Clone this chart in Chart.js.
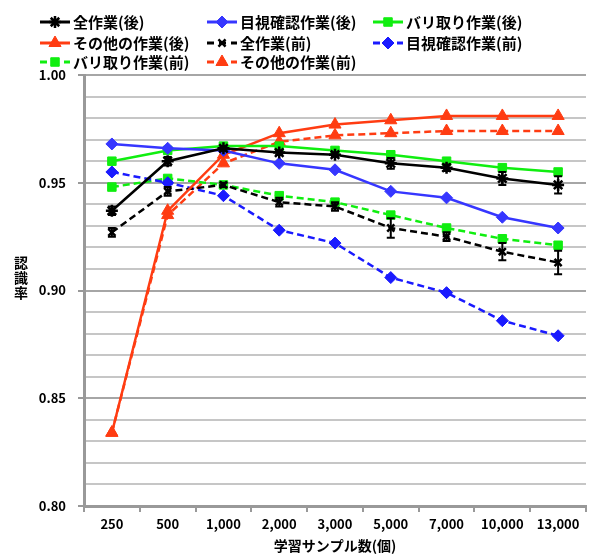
<!DOCTYPE html>
<html>
<head>
<meta charset="utf-8">
<script src="https://cdn.jsdelivr.net/npm/chart.js@4"></script>
<style>
  html, body { margin: 0; padding: 0; background: #fff; }
  #wrap { width: 597px; height: 554px; }
</style>
</head>
<body>
<div id="wrap"><canvas id="chart" width="597" height="554"></canvas></div>
<script>
const sampleSizes = ["250", "500", "1,000", "2,000", "3,000", "5,000", "7,000", "10,000", "13,000"];

const allAfter    = [0.937, 0.960, 0.966, 0.964, 0.963, 0.959, 0.957, 0.952, 0.949];
const visualAfter = [0.968, 0.966, 0.965, 0.959, 0.956, 0.946, 0.943, 0.934, 0.929];
const burrAfter   = [0.960, 0.965, 0.967, 0.967, 0.965, 0.963, 0.960, 0.957, 0.955];
const otherAfter  = [0.834, 0.937, 0.963, 0.973, 0.977, 0.979, 0.981, 0.981, 0.981];
const allBefore    = [0.927, 0.946, 0.949, 0.941, 0.939, 0.929, 0.925, 0.918, 0.913];
const visualBefore = [0.955, 0.950, 0.944, 0.928, 0.922, 0.906, 0.899, 0.886, 0.879];
const burrBefore   = [0.948, 0.952, 0.949, 0.944, 0.941, 0.935, 0.929, 0.924, 0.921];
const otherBefore  = [0.834, 0.935, 0.959, 0.969, 0.972, 0.973, 0.974, 0.974, 0.974];

// error bar half-widths for the two "all work" series
const allAfterErr  = [0.002, 0.002, 0.001, 0.001, 0.001, 0.0025, 0.0015, 0.003, 0.004];
const allBeforeErr = [0.002, 0.002, 0.001, 0.002, 0.002, 0.0045, 0.002, 0.004, 0.0055];

const yTicksMajor = [0.80, 0.85, 0.90, 0.95, 1.00];
const yTitleChars = ["認", "識", "率"];

const BLACK = "#000000", BLUE = "#3636ff", BLUE_D = "#1a1aff", GREEN = "#10ee10", RED = "#ff3c12";
const JP = "'Noto Sans CJK JP', 'Noto Sans', sans-serif";

function series(label, data, color, style, dashed, radius) {
	return {
		label: label,
		data: data,
		borderColor: color,
		backgroundColor: color,
		pointBackgroundColor: color,
		pointBorderColor: color,
		pointStyle: style,
		pointRadius: radius || 5,
		pointBorderWidth: style === "star" || style === "crossRot" ? 2.5 : 1,
		borderWidth: 2.5,
		borderDash: dashed ? [7, 4] : [],
		tension: 0
	};
}

const datasets = [
	series("全作業(後)", allAfter, BLACK, "star", false, 6),
	series("目視確認作業(後)", visualAfter, BLUE, "rectRot", false, 6),
	series("バリ取り作業(後)", burrAfter, GREEN, "rect", false, 6),
	series("その他の作業(後)", otherAfter, RED, "triangle", false, 7),
	series("全作業(前)", allBefore, BLACK, "crossRot", true, 5),
	series("目視確認作業(前)", visualBefore, BLUE_D, "rectRot", true, 6),
	series("バリ取り作業(前)", burrBefore, GREEN, "rect", true, 6),
	series("その他の作業(前)", otherBefore, RED, "triangle", true, 7)
];
datasets[0].errors = allAfterErr;
datasets[4].errors = allBeforeErr;

const errorBars = {
	id: "errorBars",
	afterDatasetsDraw(chart) {
		const ctx = chart.ctx;
		const y = chart.scales.y;
		chart.data.datasets.forEach((ds, i) => {
			if (!ds.errors) return;
			const meta = chart.getDatasetMeta(i);
			ctx.save();
			ctx.strokeStyle = BLACK;
			ctx.lineWidth = 2;
			meta.data.forEach((pt, j) => {
				const v = ds.data[j], e = ds.errors[j];
				const y1 = y.getPixelForValue(v - e), y2 = y.getPixelForValue(v + e);
				ctx.beginPath();
				ctx.moveTo(pt.x, y1); ctx.lineTo(pt.x, y2);
				ctx.moveTo(pt.x - 4, y1); ctx.lineTo(pt.x + 4, y1);
				ctx.moveTo(pt.x - 4, y2); ctx.lineTo(pt.x + 4, y2);
				ctx.stroke();
			});
			ctx.restore();
		});
	}
};

// legend in a 3-column grid plus the upright stacked y title
const gridLegend = {
	id: "gridLegend",
	afterDraw(chart) {
		const ctx = chart.ctx;
		const colX = [40, 207, 373];
		const rowY = [22, 43, 62];
		chart.data.datasets.forEach((ds, i) => {
			const x = colX[i % 3], yy = rowY[Math.floor(i / 3)];
			ctx.save();
			ctx.strokeStyle = ds.borderColor;
			ctx.fillStyle = ds.backgroundColor;
			ctx.lineWidth = 3;
			ctx.setLineDash(ds.borderDash.length ? [7, 5] : []);
			ctx.beginPath();
			ctx.moveTo(x, yy); ctx.lineTo(x + 30, yy);
			ctx.stroke();
			ctx.setLineDash([]);
			ctx.lineWidth = ds.pointBorderWidth;
			Chart.helpers.drawPoint(ctx, { pointStyle: ds.pointStyle, radius: ds.pointRadius, rotation: 0, borderWidth: ds.pointBorderWidth }, x + 15, yy);
			ctx.fillStyle = "#000";
			ctx.font = "bold 15px " + JP;
			ctx.textBaseline = "middle";
			ctx.fillText(ds.label, x + 33, yy);
			ctx.restore();
		});

		ctx.save();
		ctx.fillStyle = "#000";
		ctx.font = "bold 14px " + JP;
		ctx.textAlign = "center";
		ctx.textBaseline = "middle";
		yTitleChars.forEach((ch, k) => ctx.fillText(ch, 21, 263 + k * 15));
		ctx.restore();
	}
};

new Chart(document.getElementById("chart"), {
	type: "line",
	data: { labels: sampleSizes, datasets: datasets },
	options: {
		responsive: false,
		animation: false,
		layout: { padding: { top: 75, right: 11, left: 0, bottom: 0 } },
		plugins: { legend: { display: false }, tooltip: { enabled: false } },
		scales: {
			x: {
				offset: true,
				grid: { offset: true, drawOnChartArea: false, drawTicks: true, tickLength: 6, color: "#999", lineWidth: 2 },
				border: { color: "#999", width: 3 },
				ticks: { color: "#000", font: { family: JP, size: 13, weight: "bold" }, padding: 4, maxRotation: 0 },
				title: { display: true, text: "学習サンプル数(個)", color: "#000", font: { family: JP, size: 14, weight: "bold" }, padding: { top: 0, bottom: 0 } },
				afterFit: s => { s.height = 48; }
			},
			y: {
				min: 0.80,
				max: 1.00,
				ticks: {
					stepSize: 0.01,
					color: "#000",
					font: { family: JP, size: 13, weight: "bold" },
					padding: 12,
					callback: v => yTicksMajor.some(m => Math.abs(m - v) < 1e-6) ? v.toFixed(2) : ""
				},
				grid: {
					color: c => yTicksMajor.some(m => Math.abs(m - c.tick.value) < 1e-6) ? "#a6a6a6" : "#c6c6c6",
					tickColor: c => yTicksMajor.some(m => Math.abs(m - c.tick.value) < 1e-6) ? "#999" : "rgba(0,0,0,0)",
					lineWidth: 2,
					tickLength: 6
				},
				border: { color: "#999", width: 3 },
				afterFit: s => { s.width = 84; }
			}
		}
	},
	plugins: [errorBars, gridLegend]
});
</script>
</body>
</html>
